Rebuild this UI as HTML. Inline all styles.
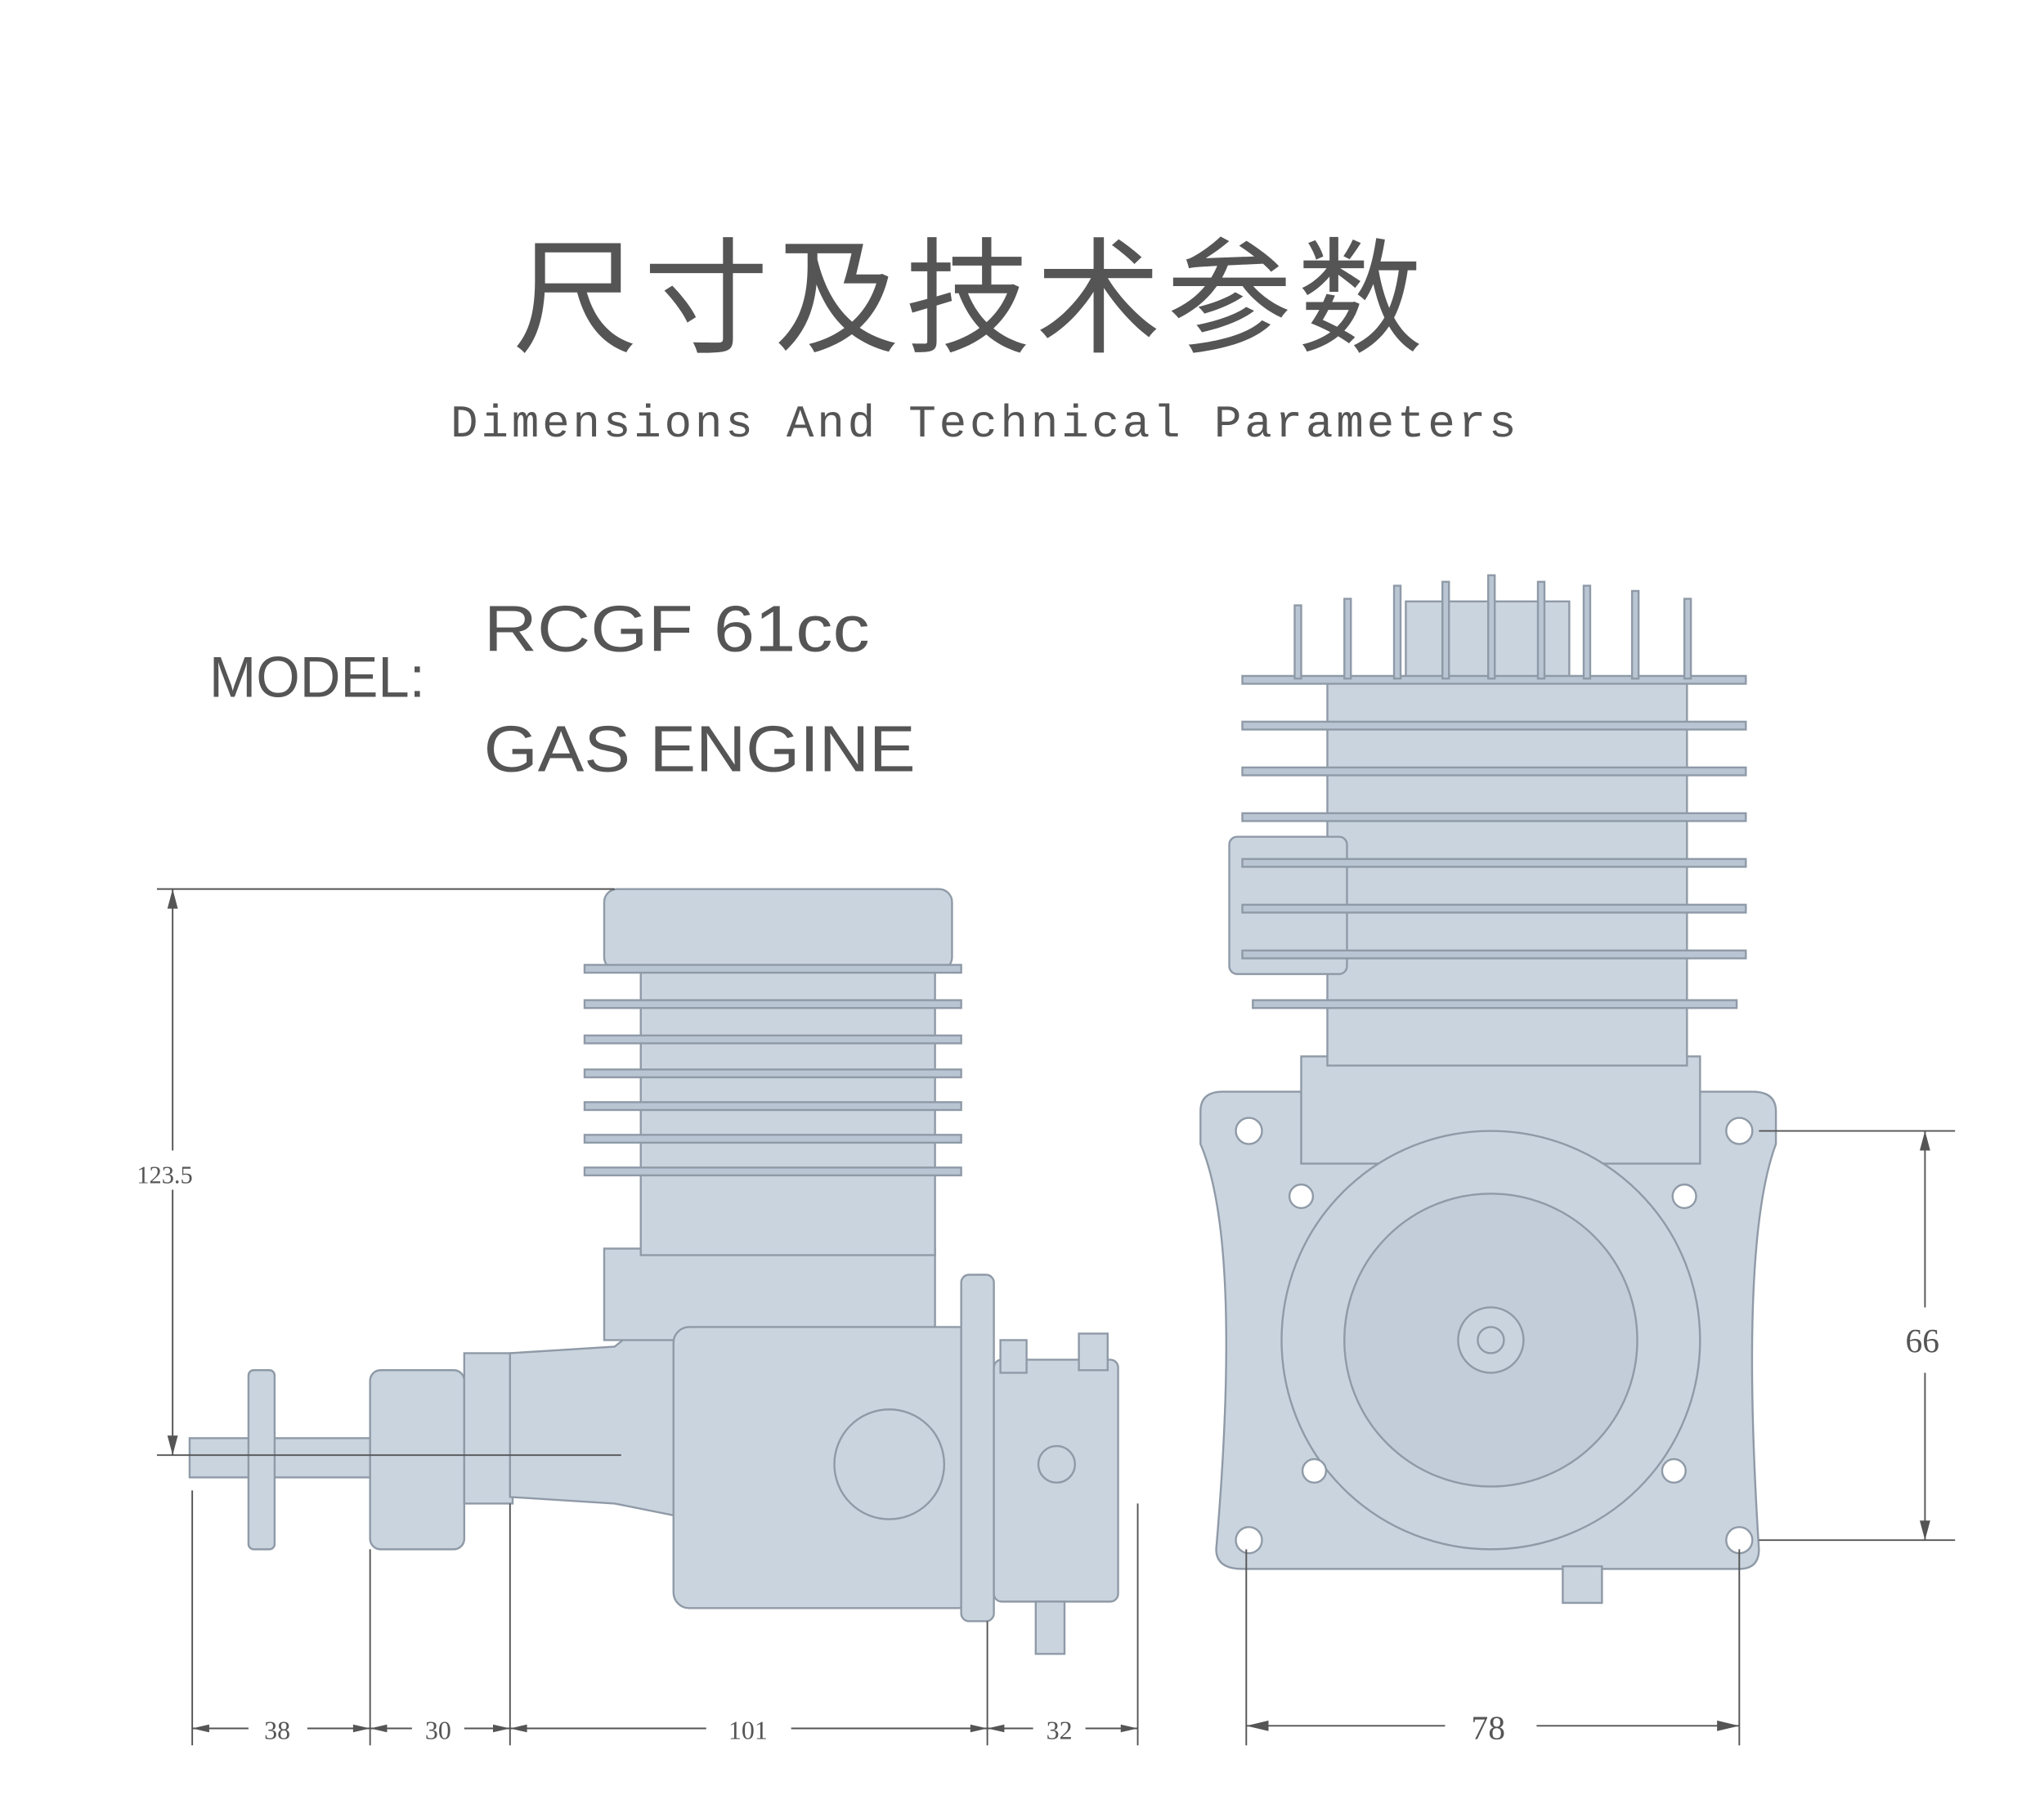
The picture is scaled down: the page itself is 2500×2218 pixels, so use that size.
<!DOCTYPE html>
<html><head><meta charset="utf-8"><style>
html,body{margin:0;padding:0;background:#fff;}
svg{display:block;}
</style></head><body>
<svg width="2500" height="2218" viewBox="0 0 1563 1386.7" xmlns="http://www.w3.org/2000/svg">
<rect width="1563" height="1387" fill="#fff"/>
<text x="742" y="262" text-anchor="middle" font-family="Liberation Sans, Noto Sans CJK SC, sans-serif" font-size="96" fill="#555" letter-spacing="4">尺寸及技术参数</text>
<text x="752" y="334" text-anchor="middle" font-family="Liberation Mono, monospace" font-size="35" fill="#555" textLength="815">Dimensions And Technical Parameters</text>
<g font-family="Liberation Sans, sans-serif" fill="#555">
<text x="160" y="533" font-size="44" textLength="165" lengthAdjust="spacingAndGlyphs">MODEL:</text>
<text x="370" y="498" font-size="50" textLength="295" lengthAdjust="spacingAndGlyphs">RCGF 61cc</text>
<text x="370" y="590" font-size="50" textLength="330" lengthAdjust="spacingAndGlyphs">GAS ENGINE</text>
</g>
<g fill="#cad4df" stroke="#8f9aa7" stroke-width="1.5">
<!-- left engine -->
<rect x="145" y="1100" width="140" height="30"/>
<rect x="190" y="1048" width="20" height="137" rx="4"/>
<rect x="283" y="1048" width="72" height="137" rx="8"/>
<rect x="355" y="1035" width="37" height="115"/>
<polygon points="390,1035 470,1030 520,990 520,1160 470,1150 390,1145"/>
<rect x="462" y="955" width="253" height="70"/>
<rect x="490" y="740" width="225" height="220"/>
<rect x="462" y="680" width="266" height="62" rx="10"/>
<g fill="#b9c5d2">
<rect x="447" y="738" width="288" height="6"/><rect x="447" y="765" width="288" height="6"/>
<rect x="447" y="792" width="288" height="6"/><rect x="447" y="818" width="288" height="6"/>
<rect x="447" y="843" width="288" height="6"/><rect x="447" y="868" width="288" height="6"/>
<rect x="447" y="893" width="288" height="6"/>
</g>
<rect x="515" y="1015" width="230" height="215" rx="12"/>
<circle cx="680" cy="1120" r="42"/>
<rect x="735" y="975" width="25" height="265" rx="6"/>
<rect x="760" y="1040" width="95" height="185" rx="6"/>
<rect x="765" y="1025" width="20" height="25"/><rect x="825" y="1020" width="22" height="28"/>
<rect x="792" y="1225" width="22" height="40"/>
<circle cx="808" cy="1120" r="14"/>
<!-- right engine -->
<path d="M918,850 Q918,835 935,835 L1340,835 Q1358,835 1358,850 L1358,875 Q1330,950 1345,1185 Q1345,1200 1330,1200 L950,1200 Q930,1200 930,1185 Q950,950 918,875 Z"/>
<rect x="995" y="808" width="305" height="82"/>
<rect x="1015" y="520" width="275" height="295"/>
<rect x="1075" y="460" width="125" height="62"/>
<rect x="940" y="640" width="90" height="105" rx="6"/>
<circle cx="1140" cy="1025" r="160"/>
<circle cx="1140" cy="1025" r="112" fill="#c2cdd9"/>
<circle cx="1140" cy="1025" r="25"/>
<circle cx="1140" cy="1025" r="10"/>
<rect x="1195" y="1198" width="30" height="28"/>
<g fill="#fff">
<circle cx="955" cy="865" r="10"/><circle cx="1330" cy="865" r="10"/>
<circle cx="955" cy="1178" r="10"/><circle cx="1330" cy="1178" r="10"/>
<circle cx="995" cy="915" r="9"/><circle cx="1288" cy="915" r="9"/>
<circle cx="1005" cy="1125" r="9"/><circle cx="1280" cy="1125" r="9"/>
</g>
<g fill="#b9c5d2">
<rect x="950" y="517" width="385" height="6"/><rect x="950" y="552" width="385" height="6"/>
<rect x="950" y="587" width="385" height="6"/><rect x="950" y="622" width="385" height="6"/>
<rect x="950" y="657" width="385" height="6"/><rect x="950" y="692" width="385" height="6"/>
<rect x="950" y="727" width="385" height="6"/><rect x="958" y="765" width="370" height="6"/>
<rect x="990" y="463" width="5" height="56"/><rect x="1028" y="458" width="5" height="61"/>
<rect x="1066" y="448" width="5" height="71"/><rect x="1103" y="445" width="5" height="74"/>
<rect x="1138" y="440" width="5" height="79"/><rect x="1176" y="445" width="5" height="74"/>
<rect x="1211" y="448" width="5" height="71"/><rect x="1248" y="452" width="5" height="67"/>
<rect x="1288" y="458" width="5" height="61"/>
</g>
</g>
<!-- dimensions -->
<g stroke="#555" stroke-width="1.2" fill="none">
<line x1="120" y1="680" x2="470" y2="680"/><line x1="120" y1="1113" x2="475" y2="1113"/>
<line x1="132" y1="680" x2="132" y2="880"/><line x1="132" y1="910" x2="132" y2="1113"/>
<line x1="147" y1="1140" x2="147" y2="1335"/><line x1="283" y1="1185" x2="283" y2="1335"/>
<line x1="390" y1="1150" x2="390" y2="1335"/><line x1="755" y1="1240" x2="755" y2="1335"/>
<line x1="870" y1="1150" x2="870" y2="1335"/>
<line x1="147" y1="1322" x2="190" y2="1322"/><line x1="235" y1="1322" x2="283" y2="1322"/>
<line x1="283" y1="1322" x2="315" y2="1322"/><line x1="355" y1="1322" x2="390" y2="1322"/>
<line x1="390" y1="1322" x2="540" y2="1322"/><line x1="605" y1="1322" x2="755" y2="1322"/>
<line x1="755" y1="1322" x2="790" y2="1322"/><line x1="830" y1="1322" x2="870" y2="1322"/>
<line x1="1345" y1="865" x2="1495" y2="865"/><line x1="1345" y1="1178" x2="1495" y2="1178"/>
<line x1="1472" y1="865" x2="1472" y2="1000"/><line x1="1472" y1="1050" x2="1472" y2="1178"/>
<line x1="953" y1="1185" x2="953" y2="1335"/><line x1="1330" y1="1185" x2="1330" y2="1335"/>
<line x1="953" y1="1320" x2="1105" y2="1320"/><line x1="1175" y1="1320" x2="1330" y2="1320"/>
</g>
<g fill="#555">
<polygon points="132,680 128,695 136,695"/><polygon points="132,1113 128,1098 136,1098"/>
<polygon points="147,1322 160,1319 160,1325"/><polygon points="283,1322 270,1319 270,1325"/>
<polygon points="283,1322 296,1319 296,1325"/><polygon points="390,1322 377,1319 377,1325"/>
<polygon points="390,1322 403,1319 403,1325"/><polygon points="755,1322 742,1319 742,1325"/>
<polygon points="755,1322 768,1319 768,1325"/><polygon points="870,1322 857,1319 857,1325"/>
<polygon points="1472,865 1468,880 1476,880"/><polygon points="1472,1178 1468,1163 1476,1163"/>
<polygon points="953,1320 970,1316 970,1324"/><polygon points="1330,1320 1313,1316 1313,1324"/>
</g>
<g font-family="Liberation Serif, serif" fill="#555" text-anchor="middle">
<text x="126" y="905" font-size="19">123.5</text>
<text x="212" y="1330" font-size="20">38</text>
<text x="335" y="1330" font-size="20">30</text>
<text x="572" y="1330" font-size="20">101</text>
<text x="810" y="1330" font-size="20">32</text>
<text x="1470" y="1034" font-size="26">66</text>
<text x="1138" y="1330" font-size="26">78</text>
</g>
</svg>
</body></html>
